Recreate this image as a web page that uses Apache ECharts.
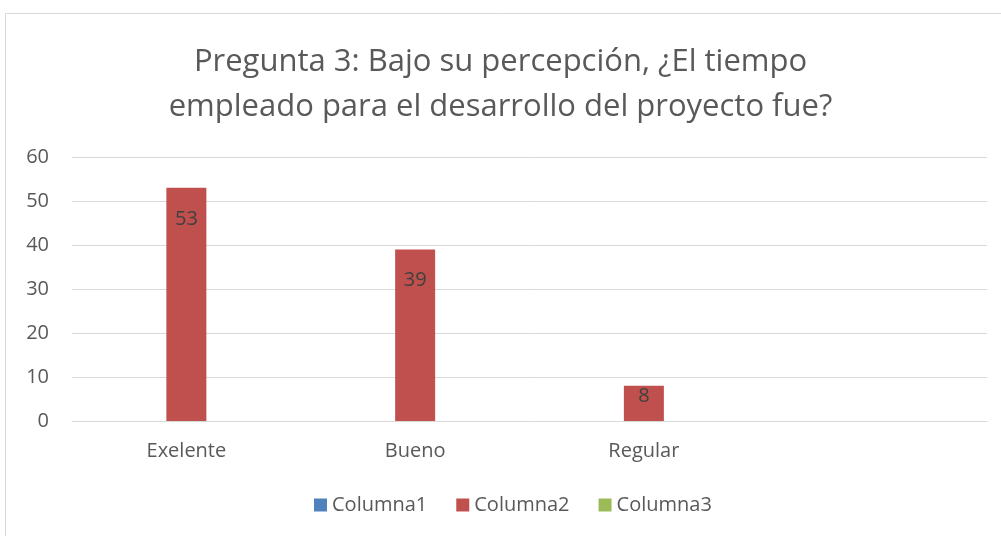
<!DOCTYPE html>
<html>
<head>
<meta charset="utf-8">
<script src="https://cdn.jsdelivr.net/npm/echarts@6/dist/echarts.min.js"></script>
<style>
  html, body { margin: 0; padding: 0; background: #fff; }
  #chart { width: 1001px; height: 536px; }
</style>
</head>
<body>
<div id="chart"></div>
<script>
// datos de la grafica
var categorias = ['Exelente', 'Bueno', 'Regular', ''];
var columna1 = [null, null, null, null];
var columna2 = [53, 39, 8, null];
var columna3 = [null, null, null, null];
var ticksY = [0, 10, 20, 30, 40, 50, 60];

var chart = echarts.init(document.getElementById('chart'));

var fuente = '"Open Sans", "Noto Sans", sans-serif';

// las barras bajas llevan la etiqueta pegada al borde superior
var datosCol2 = columna2.map(function (v) {
  if (v !== null && v < 15) {
    return { value: v, label: { distance: 0 } };
  }
  return v;
});

var option = {
  animation: false,
  textStyle: { fontFamily: fuente },
  title: {
    text: 'Pregunta 3: Bajo su percepción, ¿El tiempo\nempleado para el desarrollo del proyecto fue?',
    left: 'center',
    top: 35,
    textStyle: { color: '#595959', fontSize: 31, fontWeight: 'normal', lineHeight: 45, fontFamily: fuente }
  },
  graphic: [{
    type: 'rect',
    shape: { x: 5.5, y: 13.5, width: 1100, height: 600 },
    style: { fill: 'none', stroke: '#d9d9d9', lineWidth: 1 },
    silent: true
  }],
  legend: {
    bottom: 21,
    left: 314,
    padding: 0,
    itemWidth: 13,
    itemHeight: 13,
    itemGap: 29,
    icon: 'rect',
    textStyle: { color: '#595959', fontSize: 20, fontFamily: fuente },
    data: ['Columna1', 'Columna2', 'Columna3']
  },
  grid: { left: 72, right: 14, top: 157, bottom: 115 },
  xAxis: {
    type: 'category',
    data: categorias,
    axisLine: { show: true, lineStyle: { color: '#d9d9d9' } },
    axisTick: { show: false },
    axisLabel: { color: '#595959', fontSize: 20, margin: 20, fontFamily: fuente }
  },
  yAxis: {
    type: 'value',
    min: ticksY[0],
    max: ticksY[ticksY.length - 1],
    interval: 10,
    axisLine: { show: false },
    axisTick: { show: false },
    axisLabel: { color: '#595959', fontSize: 20, margin: 23, fontFamily: fuente },
    splitLine: { lineStyle: { color: '#d9d9d9', width: 1 } }
  },
  series: [
    {
      name: 'Columna1', type: 'bar', data: columna1,
      barWidth: 40, barGap: '0%',
      itemStyle: { color: '#4F81BD' }
    },
    {
      name: 'Columna2', type: 'bar', data: datosCol2,
      barWidth: 40, barGap: '0%',
      itemStyle: { color: '#C0504D' },
      label: {
        show: true, position: 'insideTop', distance: 21,
        color: '#404040', fontSize: 20, fontFamily: fuente
      }
    },
    {
      name: 'Columna3', type: 'bar', data: columna3,
      barWidth: 40, barGap: '0%',
      itemStyle: { color: '#9BBB59' }
    }
  ]
};

chart.setOption(option);
</script>
</body>
</html>
